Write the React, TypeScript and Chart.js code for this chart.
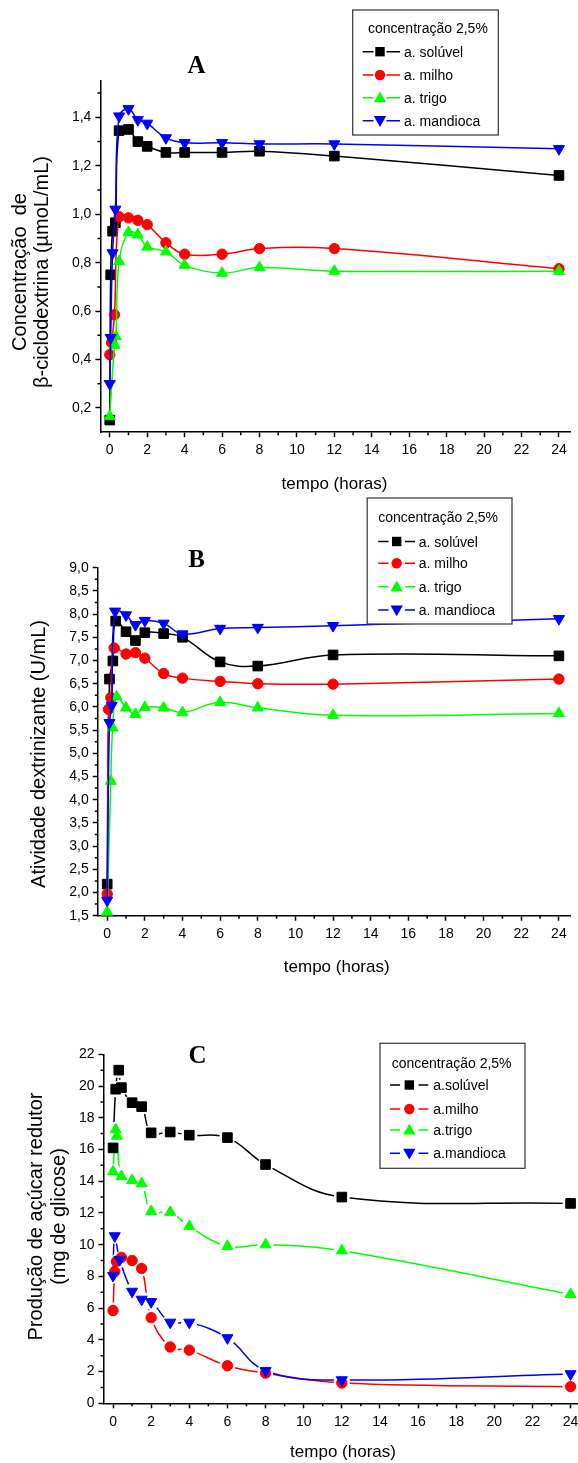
import React, { useEffect, useRef } from 'react';
import { Chart, registerables } from 'chart.js';

Chart.register(...registerables);

// ---------- shared labels ----------
const NAMES_AB = ['a. solúvel', 'a. milho', 'a. trigo', 'a. mandioca'];
const NAMES_C = ['a.solúvel', 'a.milho', 'a.trigo', 'a.mandioca'];
const LEGEND_HEADER = 'concentração 2,5%';
const X_TITLE = 'tempo (horas)';
const X_TICKS = [0, 2, 4, 6, 8, 10, 12, 14, 16, 18, 20, 22, 24];
const X_MINOR = [1, 3, 5, 7, 9, 11, 13, 15, 17, 19, 21, 23];

// ---------- Panel A : β-ciclodextrina ----------
const A_T_SOLUVEL = [0, 0.05, 0.15, 0.3, 0.5, 1, 1.5, 2, 3, 4, 6, 8, 12, 24];
const A_SOLUVEL = [0.15, 0.75, 0.93, 0.965, 1.345, 1.35, 1.3, 1.28, 1.255, 1.255, 1.255, 1.26, 1.24, 1.16];
const A_T_MILHO = [0, 0.1, 0.25, 0.5, 1, 1.5, 2, 3, 4, 6, 8, 12, 24];
const A_MILHO = [0.42, 0.47, 0.585, 0.99, 0.985, 0.975, 0.957, 0.882, 0.835, 0.835, 0.858, 0.858, 0.775];
const A_T_TRIGO = [0, 0.25, 0.33, 0.5, 1, 1.5, 2, 3, 4, 6, 8, 12, 24];
const A_TRIGO = [0.165, 0.46, 0.495, 0.805, 0.925, 0.915, 0.865, 0.845, 0.79, 0.757, 0.78, 0.765, 0.765];
const A_T_MANDIOCA = [0, 0.05, 0.15, 0.3, 0.5, 1, 1.5, 2, 3, 4, 6, 8, 12, 24];
const A_MANDIOCA = [0.3, 0.49, 0.84, 1.02, 1.405, 1.435, 1.39, 1.375, 1.315, 1.295, 1.295, 1.29, 1.29, 1.27];
const A_Y_TICKS = [0.2, 0.4, 0.6, 0.8, 1.0, 1.2, 1.4];
const A_Y_MINOR = [0.3, 0.5, 0.7, 0.9, 1.1, 1.3, 1.5];
const A_Y_TITLE = ['Concentração  de', 'β-ciclodextrina (µmoL/mL)'];

// ---------- Panel B : atividade dextrinizante ----------
const B_T_SOLUVEL = [0, 0.12, 0.3, 0.45, 1, 1.5, 2, 3, 4, 6, 8, 12, 24];
const B_SOLUVEL = [2.18, 6.6, 6.99, 7.85, 7.62, 7.43, 7.6, 7.58, 7.5, 6.97, 6.88, 7.12, 7.1];
const B_T_MILHO = [0, 0.07, 0.19, 0.37, 1, 1.5, 2, 3, 4, 6, 8, 12, 24];
const B_MILHO = [1.97, 5.95, 6.2, 7.27, 7.14, 7.17, 7.05, 6.72, 6.62, 6.55, 6.5, 6.49, 6.6];
const B_T_TRIGO = [0, 0.19, 0.29, 0.5, 1, 1.5, 2, 3, 4, 6, 8, 12, 24];
const B_TRIGO = [1.58, 4.4, 5.55, 6.22, 5.98, 5.84, 5.99, 5.98, 5.88, 6.1, 5.98, 5.82, 5.86];
const B_T_MANDIOCA = [0, 0.12, 0.24, 0.42, 1, 1.5, 2, 3, 4, 6, 8, 12, 24];
const B_MANDIOCA = [1.83, 5.66, 6.03, 8.06, 7.98, 7.77, 7.86, 7.8, 7.57, 7.69, 7.71, 7.75, 7.9];
const B_Y_TICKS = [1.5, 2.0, 2.5, 3.0, 3.5, 4.0, 4.5, 5.0, 5.5, 6.0, 6.5, 7.0, 7.5, 8.0, 8.5, 9.0];
const B_Y_MINOR = [1.75, 2.25, 2.75, 3.25, 3.75, 4.25, 4.75, 5.25, 5.75, 6.25, 6.75, 7.25, 7.75, 8.25, 8.75];
const B_Y_TITLE = ['Atividade dextrinizante (U/mL)'];

// ---------- Panel C : açúcar redutor ----------
const C_T_SOLUVEL = [0, 0.14, 0.3, 0.44, 1, 1.5, 2, 3, 4, 6, 8, 12, 24];
const C_SOLUVEL = [16.1, 19.8, 21.0, 19.9, 18.95, 18.7, 17.05, 17.1, 16.9, 16.75, 15.05, 13.0, 12.6];
const C_T_MILHO = [0, 0.09, 0.18, 0.44, 1, 1.5, 2, 3, 4, 6, 8, 12, 24];
const C_MILHO = [5.85, 8.3, 8.95, 9.2, 9.0, 8.5, 5.4, 3.55, 3.35, 2.37, 1.9, 1.28, 1.05];
const C_T_TRIGO = [0, 0.14, 0.2, 0.44, 1, 1.5, 2, 3, 4, 6, 8, 12, 24];
const C_TRIGO = [14.6, 17.25, 16.85, 14.3, 14.05, 13.85, 12.1, 12.05, 11.15, 9.9, 10.0, 9.62, 6.87];
const C_T_MANDIOCA = [0, 0.09, 0.35, 1, 1.5, 2, 3, 4, 6, 8, 12, 24];
const C_MANDIOCA = [8.05, 10.55, 9.05, 7.05, 6.55, 6.4, 5.1, 5.1, 4.12, 2.05, 1.47, 1.85];
const C_Y_TICKS = [0, 2, 4, 6, 8, 10, 12, 14, 16, 18, 20, 22];
const C_Y_MINOR = [1, 3, 5, 7, 9, 11, 13, 15, 17, 19, 21];
const C_Y_TITLE = ['Produção de açúcar redutor', '(mg de glicose)'];

// ---------- styles ----------
const FONT = '"Liberation Sans", Arial, sans-serif';
const SERIF = '"Liberation Serif", "Times New Roman", serif';
const COLORS = ['#000000', '#ff0000', '#00ff00', '#0000ff'];
const MARKERS = [
  { style: 'rect', rot: 0, r: 6.8 },
  { style: 'circle', rot: 0, r: 5.2 },
  { style: 'triangle', rot: 0, r: 6.4 },
  { style: 'triangle', rot: 180, r: 6.4 },
];

const commaFmt = (v: number) => v.toFixed(1).replace('.', ',');
const intFmt = (v: number) => String(Math.round(v));

interface PanelSpec {
  top: number;
  W: number;
  H: number;
  area: { left: number; right: number; top: number; bottom: number };
  xMin: number;
  xMax: number;
  yMin: number;
  yMax: number;
  yTicks: number[];
  yMinor: number[];
  fmt: (v: number) => string;
  series: { t: number[]; v: number[] }[];
  names: string[];
  gap: number;
  letter: { text: string; x: number; y: number };
  yTitle: { lines: string[]; xs: number[]; cy: number };
  xTitle: { x: number; y: number };
  legend: {
    box: [number, number, number, number];
    headerX: number;
    headerY: number;
    rows: number[];
    seg: [number, number, number, number];
    mx: number;
    tx: number;
  };
}

const PANELS: PanelSpec[] = [
  {
    top: 0, W: 578, H: 492,
    area: { left: 100.4, right: 570.3, top: 81, bottom: 432.2 },
    xMin: -0.5, xMax: 24.6, yMin: 0.1, yMax: 1.55,
    yTicks: A_Y_TICKS, yMinor: A_Y_MINOR, fmt: commaFmt,
    series: [
      { t: A_T_SOLUVEL, v: A_SOLUVEL },
      { t: A_T_MILHO, v: A_MILHO },
      { t: A_T_TRIGO, v: A_TRIGO },
      { t: A_T_MANDIOCA, v: A_MANDIOCA },
    ],
    names: NAMES_AB, gap: 0,
    letter: { text: 'A', x: 196.6, y: 73.3 },
    yTitle: { lines: A_Y_TITLE, xs: [26, 48], cy: 272 },
    xTitle: { x: 334.5, y: 489 },
    legend: {
      box: [352.7, 10, 498.3, 135], headerX: 368, headerY: 33.3,
      rows: [51.7, 75, 97.7, 120.7], seg: [362.7, 373.5, 386.5, 400], mx: 380, tx: 404,
    },
  },
  {
    top: 492, W: 578, H: 488,
    area: { left: 97.8, right: 577.5, top: 75.7, bottom: 423.7 },
    xMin: -0.5, xMax: 24.6, yMin: 1.5, yMax: 9.0,
    yTicks: B_Y_TICKS, yMinor: B_Y_MINOR, fmt: commaFmt,
    series: [
      { t: B_T_SOLUVEL, v: B_SOLUVEL },
      { t: B_T_MILHO, v: B_MILHO },
      { t: B_T_TRIGO, v: B_TRIGO },
      { t: B_T_MANDIOCA, v: B_MANDIOCA },
    ],
    names: NAMES_AB, gap: 0,
    letter: { text: 'B', x: 196.5, y: 74.7 },
    yTitle: { lines: B_Y_TITLE, xs: [45], cy: 262 },
    xTitle: { x: 336.7, y: 479.7 },
    legend: {
      box: [367.2, 6, 512, 132], headerX: 378.2, headerY: 30,
      rows: [49.5, 71.3, 94.7, 118], seg: [378.2, 388.5, 405, 415], mx: 396.7, tx: 418.8,
    },
  },
  {
    top: 980, W: 590, H: 483,
    area: { left: 103.5, right: 584.2, top: 74.3, bottom: 423.3 },
    xMin: -0.5, xMax: 24.6, yMin: 0, yMax: 22,
    yTicks: C_Y_TICKS, yMinor: C_Y_MINOR, fmt: intFmt,
    series: [
      { t: C_T_SOLUVEL, v: C_SOLUVEL },
      { t: C_T_MILHO, v: C_MILHO },
      { t: C_T_TRIGO, v: C_TRIGO },
      { t: C_T_MANDIOCA, v: C_MANDIOCA },
    ],
    names: NAMES_C, gap: 8,
    letter: { text: 'C', x: 197.5, y: 83.3 },
    yTitle: { lines: C_Y_TITLE, xs: [42, 65], cy: 236.5 },
    xTitle: { x: 343, y: 476.7 },
    legend: {
      box: [380, 63.3, 525, 188.3], headerX: 391.7, headerY: 87.5,
      rows: [105, 129, 150, 173.3], seg: [390, 400, 418.5, 428.3], mx: 409.3, tx: 433.3,
    },
  },
];

function drawLegendMarker(ctx: CanvasRenderingContext2D, idx: number, x: number, y: number) {
  ctx.fillStyle = COLORS[idx];
  ctx.beginPath();
  if (idx === 0) {
    ctx.rect(x - 4.7, y - 4.7, 9.4, 9.4);
  } else if (idx === 1) {
    ctx.arc(x, y, 5.2, 0, Math.PI * 2);
  } else if (idx === 2) {
    ctx.moveTo(x, y - 6.2);
    ctx.lineTo(x + 6.2, y + 4.6);
    ctx.lineTo(x - 6.2, y + 4.6);
    ctx.closePath();
  } else {
    ctx.moveTo(x, y + 6.2);
    ctx.lineTo(x + 6.2, y - 4.6);
    ctx.lineTo(x - 6.2, y - 4.6);
    ctx.closePath();
  }
  ctx.fill();
}

function buildConfig(p: PanelSpec): any {
  const Y_W = 70;
  const X_H = 40;
  const datasets: any[] = [];
  p.series.forEach((s, i) => {
    const pts = s.t.map((t, k) => ({ x: t, y: s.v[k] }));
    const m = MARKERS[i];
    if (p.gap > 0) {
      datasets.push({
        label: p.names[i] + ' (linha)',
        data: pts, showLine: true, borderColor: COLORS[i], borderWidth: 1.5,
        tension: 0.4, pointRadius: 0, pointHoverRadius: 0, clip: false, order: 20 - 2 * i,
      });
      datasets.push({
        label: p.names[i] + ' (gap)',
        data: pts, showLine: false, pointStyle: 'circle', pointRadius: p.gap,
        pointHoverRadius: p.gap, pointBackgroundColor: '#ffffff', pointBorderColor: '#ffffff',
        pointBorderWidth: 0, clip: false, order: 19 - 2 * i,
      });
    }
    datasets.push({
      label: p.names[i],
      data: pts,
      showLine: p.gap === 0,
      borderColor: COLORS[i],
      backgroundColor: COLORS[i],
      borderWidth: 1.5,
      tension: 0.4,
      pointStyle: m.style,
      pointRotation: m.rot,
      pointRadius: m.r,
      pointHoverRadius: m.r,
      pointBackgroundColor: COLORS[i],
      pointBorderColor: COLORS[i],
      pointBorderWidth: 1,
      clip: false,
      order: 3 - i,
    });
  });

  const decor = {
    id: 'decor',
    afterDraw(chart: any) {
      const ctx = chart.ctx as CanvasRenderingContext2D;
      const xs = chart.scales.x;
      const ys = chart.scales.y;
      const a = chart.chartArea;
      ctx.save();
      // minor ticks
      ctx.strokeStyle = '#000';
      ctx.lineWidth = 1.5;
      ctx.beginPath();
      X_MINOR.forEach((v) => {
        const px = xs.getPixelForValue(v);
        ctx.moveTo(px, a.bottom);
        ctx.lineTo(px, a.bottom + 3);
      });
      p.yMinor.forEach((v) => {
        const py = ys.getPixelForValue(v);
        ctx.moveTo(a.left - 3, py);
        ctx.lineTo(a.left, py);
      });
      ctx.stroke();

      ctx.fillStyle = '#000';
      ctx.textAlign = 'center';
      ctx.textBaseline = 'alphabetic';
      // panel letter
      ctx.font = `bold 25px ${SERIF}`;
      ctx.fillText(p.letter.text, p.letter.x, p.letter.y);
      // x title
      ctx.font = `17px ${FONT}`;
      ctx.fillText(X_TITLE, p.xTitle.x, p.xTitle.y);
      // y title
      ctx.font = `20px ${FONT}`;
      p.yTitle.lines.forEach((line, i) => {
        ctx.save();
        ctx.translate(p.yTitle.xs[i], p.yTitle.cy);
        ctx.rotate(-Math.PI / 2);
        ctx.fillText(line, 0, 0);
        ctx.restore();
      });

      // legend
      const L = p.legend;
      const [bx1, by1, bx2, by2] = L.box;
      ctx.fillStyle = '#ffffff';
      ctx.fillRect(bx1, by1, bx2 - bx1, by2 - by1);
      ctx.strokeStyle = '#333333';
      ctx.lineWidth = 1.2;
      ctx.strokeRect(bx1, by1, bx2 - bx1, by2 - by1);
      ctx.fillStyle = '#000';
      ctx.textAlign = 'left';
      ctx.font = `14px ${FONT}`;
      ctx.fillText(LEGEND_HEADER, L.headerX, L.headerY);
      L.rows.forEach((ry, i) => {
        ctx.strokeStyle = COLORS[i];
        ctx.lineWidth = 1.5;
        ctx.beginPath();
        ctx.moveTo(L.seg[0], ry);
        ctx.lineTo(L.seg[1], ry);
        ctx.moveTo(L.seg[2], ry);
        ctx.lineTo(L.seg[3], ry);
        ctx.stroke();
        drawLegendMarker(ctx, i, L.mx, ry);
        ctx.fillStyle = '#000';
        ctx.fillText(p.names[i], L.tx, ry + 5);
      });
      ctx.restore();
    },
  };

  const tickFont = { family: FONT, size: 14 };
  return {
    type: 'line',
    data: { datasets },
    options: {
      responsive: false,
      maintainAspectRatio: false,
      animation: false,
      devicePixelRatio: 1,
      events: [],
      parsing: true,
      layout: {
        padding: {
          left: p.area.left - Y_W,
          right: p.W - p.area.right,
          top: p.area.top,
          bottom: p.H - p.area.bottom - X_H,
        },
      },
      plugins: {
        legend: { display: false },
        tooltip: { enabled: false },
        title: { display: false },
      },
      scales: {
        x: {
          type: 'linear',
          min: p.xMin,
          max: p.xMax,
          afterBuildTicks: (s: any) => {
            s.ticks = X_TICKS.map((v) => ({ value: v }));
          },
          afterFit: (s: any) => {
            s.height = X_H;
          },
          ticks: {
            autoSkip: false,
            maxRotation: 0,
            minRotation: 0,
            padding: 5,
            color: '#000',
            font: tickFont,
            callback: (v: any) => String(v),
          },
          grid: {
            display: true,
            drawOnChartArea: false,
            drawTicks: true,
            tickLength: 5,
            tickColor: '#000',
            tickWidth: 1.5,
          },
          border: { display: true, color: '#000', width: 1.5 },
        },
        y: {
          type: 'linear',
          min: p.yMin,
          max: p.yMax,
          afterBuildTicks: (s: any) => {
            s.ticks = p.yTicks.map((v) => ({ value: v }));
          },
          afterFit: (s: any) => {
            s.width = Y_W;
          },
          ticks: {
            autoSkip: false,
            padding: 4,
            color: '#000',
            font: tickFont,
            callback: (v: any) => p.fmt(Number(v)),
          },
          grid: {
            display: true,
            drawOnChartArea: false,
            drawTicks: true,
            tickLength: 5,
            tickColor: '#000',
            tickWidth: 1.5,
          },
          border: { display: true, color: '#000', width: 1.5 },
        },
      },
    },
    plugins: [decor],
  };
}

function Panel({ spec }: { spec: PanelSpec }) {
  const ref = useRef<HTMLCanvasElement | null>(null);
  useEffect(() => {
    if (!ref.current) return;
    const chart = new Chart(ref.current, buildConfig(spec));
    return () => chart.destroy();
  }, [spec]);
  return (
    <canvas
      ref={ref}
      width={spec.W}
      height={spec.H}
      style={{ position: 'absolute', left: 0, top: spec.top, width: spec.W, height: spec.H }}
    />
  );
}

export default function App() {
  return (
    <div
      style={{
        position: 'absolute',
        left: 0,
        top: 0,
        width: 578,
        height: 1463,
        overflow: 'hidden',
        background: '#ffffff',
      }}
    >
      {PANELS.map((p, i) => (
        <Panel key={i} spec={p} />
      ))}
    </div>
  );
}
